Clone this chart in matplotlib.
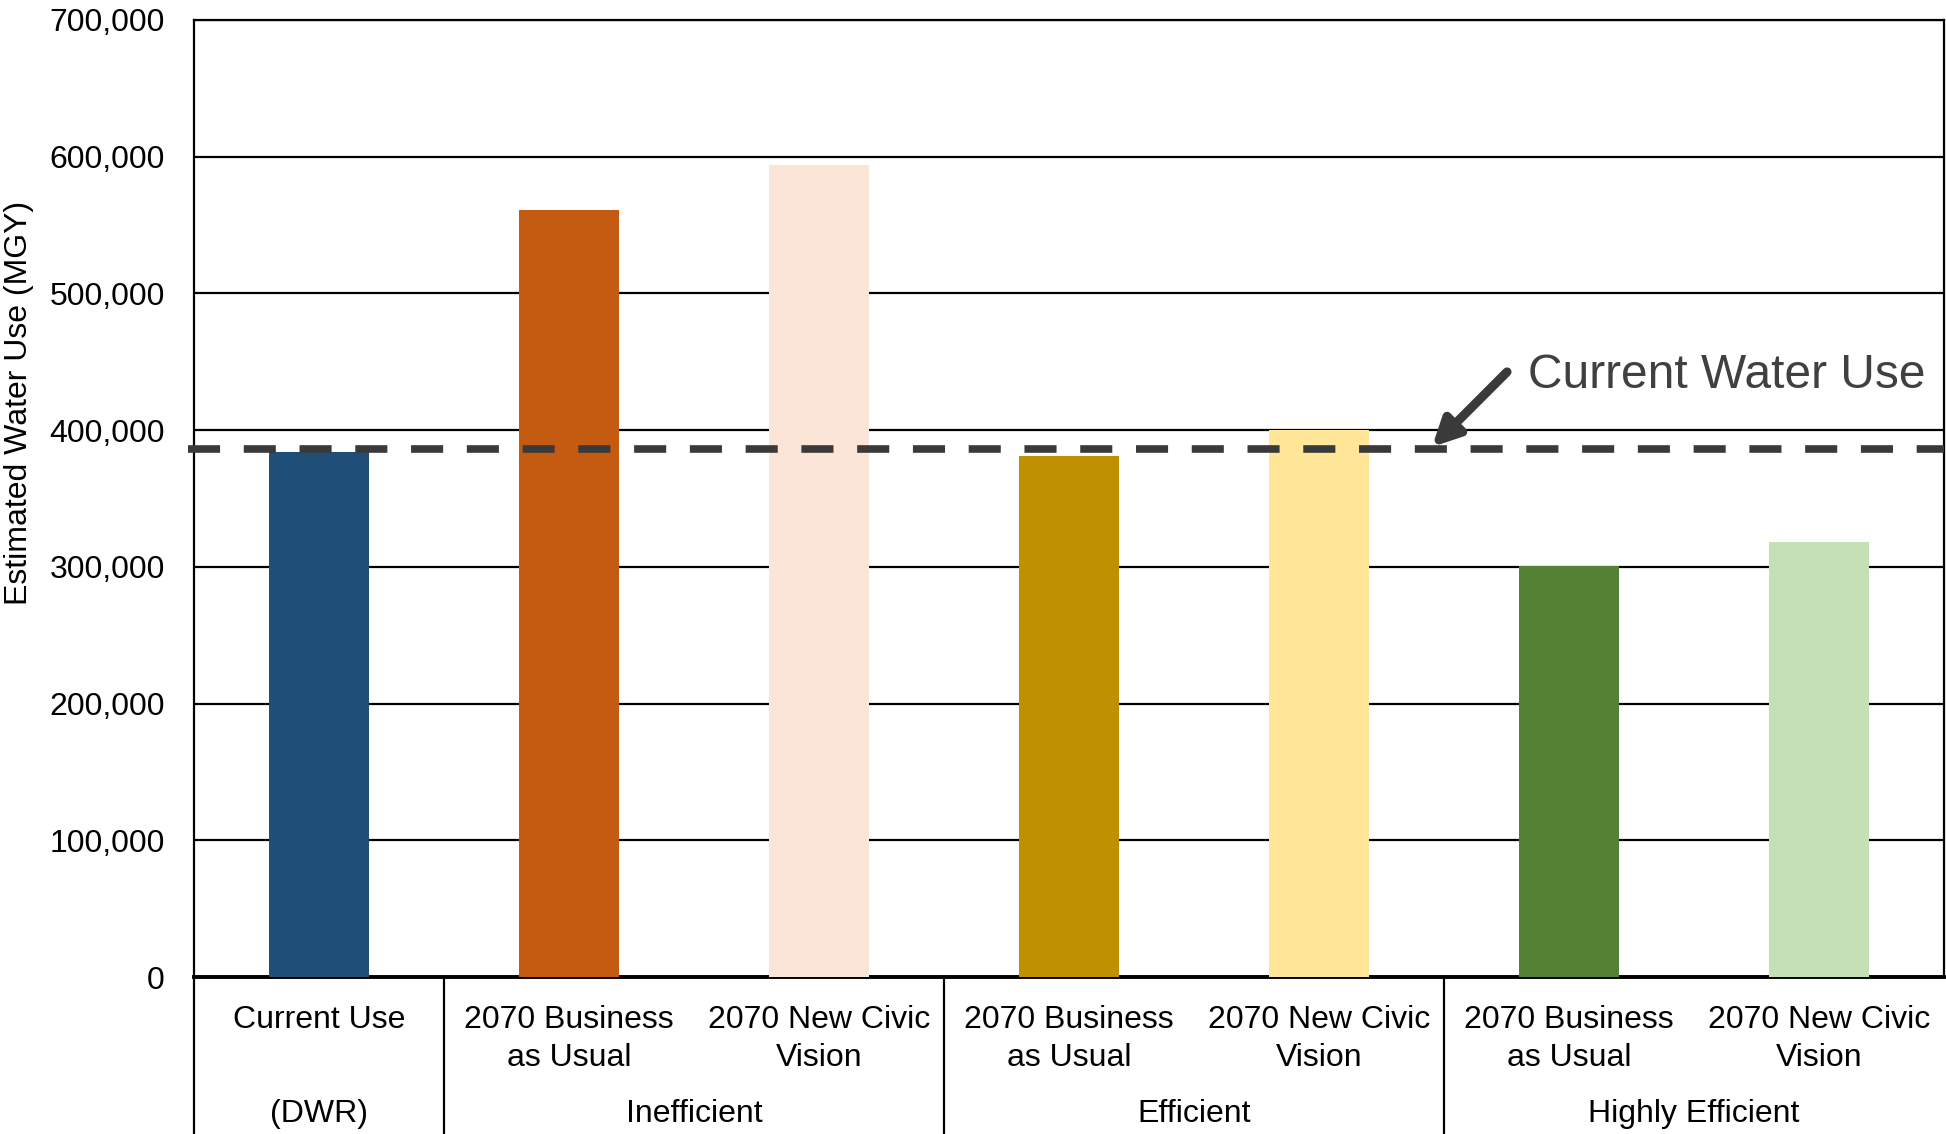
import matplotlib.pyplot as plt
from matplotlib.ticker import FuncFormatter

plt.rcParams['font.family'] = ['Liberation Sans', 'DejaVu Sans']

# chart data
labels = ['Current Use', '2070 Business\nas Usual', '2070 New Civic\nVision',
          '2070 Business\nas Usual', '2070 New Civic\nVision',
          '2070 Business\nas Usual', '2070 New Civic\nVision']
values = [384000, 561000, 594000, 381000, 400000, 301000, 318000]
colors = ['#1F4E79', '#C55A11', '#FBE5D6', '#BF9000', '#FFE699', '#548235', '#C5E0B4']
groups = ['(DWR)', 'Inefficient', 'Efficient', 'Highly Efficient']
group_span = [(0, 0), (1, 2), (3, 4), (5, 6)]
current_water_use = 386000

fig = plt.figure(figsize=(19.46, 11.34), dpi=100)
ax = fig.add_axes([0.0997, 0.1384, 0.8993, 0.844])

x = list(range(len(values)))
ax.bar(x, values, width=0.4, color=colors, zorder=3)

ax.set_xlim(-0.5, len(values) - 0.5)
ax.set_ylim(0, 700000)
ax.set_yticks(range(0, 700001, 100000))
ax.yaxis.set_major_formatter(FuncFormatter(lambda v, p: f'{int(v):,}'))
ax.tick_params(axis='y', length=0, pad=21, labelsize=23)
ax.set_xticks([])
ax.yaxis.grid(True, color='black', lw=1.6, zorder=1)
ax.set_axisbelow(True)
for s in ax.spines.values():
    s.set_color('black')
    s.set_linewidth(1.6)
ax.spines['bottom'].set_linewidth(2.8)

fig.text(0.002, 0.645, 'Estimated Water Use (MGY)', rotation=90, fontsize=23,
         ha='left', va='center')

# current use reference line
ax.plot([-0.524, len(values) - 0.5], [current_water_use] * 2, color='#3a3a3a',
        lw=5.5, dashes=(4.2, 3.1), zorder=4, clip_on=False)
ax.annotate('', xy=(4.452, 387700), xytext=(4.752, 442600),
            arrowprops=dict(arrowstyle='-|>', color='#3a3a3a', lw=6.5,
                            mutation_scale=40, shrinkA=0, shrinkB=0),
            zorder=5)
ax.text(4.836, 431000, 'Current Water Use', fontsize=34.5, color='#404040',
        ha='left', va='baseline', zorder=5)

# category / group labels below the axis
tr = ax.get_xaxis_transform()
for xi, lab in zip(x, labels):
    for k, line in enumerate(lab.split('\n')):
        ax.text(xi, -0.0445 - 0.0397 * k, line, transform=tr, ha='center',
                va='center', fontsize=23)
for g, (a, b) in zip(groups, group_span):
    ax.text((a + b) / 2, -0.1435, g, transform=tr, ha='center', va='center', fontsize=23)

for xs in [-0.5, 0.5, 2.5, 4.5]:
    ax.plot([xs, xs], [0, -0.17], transform=tr, color='black', lw=1.6, clip_on=False)

fig.savefig('out.png', dpi=100)
